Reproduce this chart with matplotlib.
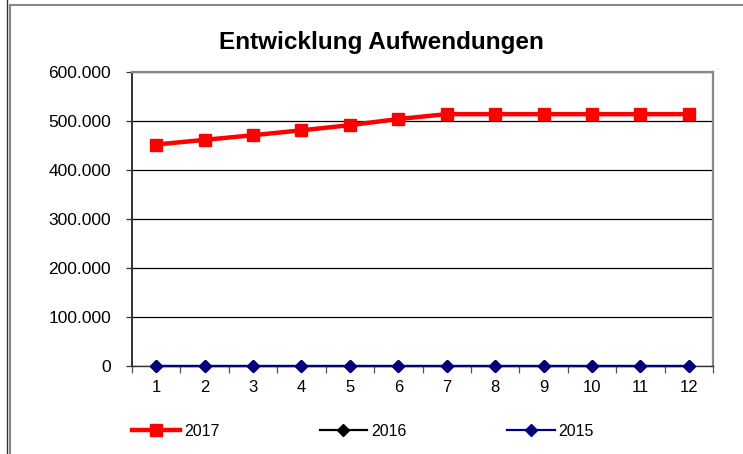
import matplotlib
matplotlib.use("Agg")
import matplotlib.pyplot as plt
from matplotlib.lines import Line2D
from matplotlib.ticker import FuncFormatter, FixedLocator

plt.rcParams['font.family'] = ['Liberation Sans', 'DejaVu Sans']

months = [1, 2, 3, 4, 5, 6, 7, 8, 9, 10, 11, 12]
v2017 = [452000, 461500, 471000, 481000, 491500, 504000, 514000, 514000, 514000, 514000, 514000, 514000]
v2016 = [0] * 12
v2015 = [0] * 12
series_labels = ["2017", "2016", "2015"]
title = "Entwicklung Aufwendungen"

W, H = 743, 454
fig = plt.figure(figsize=(W / 100, H / 100), dpi=100)
fig.patch.set_facecolor('white')

# plot area in pixels: left 132, right 713, top 72, bottom 366
l, r, t, b = 132, 713, 72, 366
ax = fig.add_axes([l / W, 1 - b / H, (r - l) / W, (b - t) / H])

ax.plot(months, v2017, color='#FF0000', lw=3.2, marker='s', ms=8.5, label=series_labels[0], zorder=5, clip_on=False)
ax.plot(months, v2016, color='black', lw=1.6, marker='D', ms=6, label=series_labels[1], zorder=4, clip_on=False)
ax.plot(months, v2015, color='#000080', lw=1.6, marker='D', ms=6, label=series_labels[2], zorder=6, clip_on=False)

ax.set_xlim(0.5, 12.5)
ax.set_ylim(0, 600000)
ax.yaxis.set_major_locator(FixedLocator([0, 100000, 200000, 300000, 400000, 500000, 600000]))
ax.yaxis.set_major_formatter(FuncFormatter(lambda v, p: "0" if v == 0 else f"{int(v):,}".replace(",", ".")))
ax.grid(axis='y', color='black', lw=0.9)
ax.set_axisbelow(True)

ax.set_xticks([i + 0.5 for i in range(0, 13)])
ax.set_xticklabels([])
ax.set_xticks(months, minor=True)
ax.set_xticklabels([str(m) for m in months], minor=True)
ax.tick_params(axis='x', which='minor', length=0, pad=10, labelsize=12)
ax.tick_params(axis='x', which='major', length=5, direction='out', color='#555555', width=0.9)
ax.tick_params(axis='y', length=4, direction='out', labelsize=12.5, pad=11, color='#333333', width=0.9)

for s in ['top', 'right']:
    ax.spines[s].set_color('#888888')
    ax.spines[s].set_linewidth(1.6)
ax.spines['left'].set_color('#333333')
ax.spines['left'].set_linewidth(1.4)
ax.spines['bottom'].set_color('#333333')
ax.spines['bottom'].set_linewidth(1.0)

fig.text(381 / W, 1 - 42 / H, title, ha='center', va='center', fontsize=17.5, fontweight='bold')

leg = fig.legend(loc='center left', bbox_to_anchor=(126 / W, 1 - 431 / H), ncol=3, frameon=False,
                 fontsize=11.5, handlelength=3.0, handletextpad=0.25, columnspacing=6.25, borderaxespad=0)

# outer chart frame lines
fig.add_artist(Line2D([7.5 / W, 7.5 / W], [0, 1], color='#333333', lw=1.0, transform=fig.transFigure))
fig.add_artist(Line2D([9.5 / W, 9.5 / W], [0, 1 - 5 / H], color='#888888', lw=1.5, transform=fig.transFigure))
fig.add_artist(Line2D([9.5 / W, 1], [1 - 5 / H, 1 - 5 / H], color='#888888', lw=1.5, transform=fig.transFigure))

fig.savefig('out.png', dpi=100)
